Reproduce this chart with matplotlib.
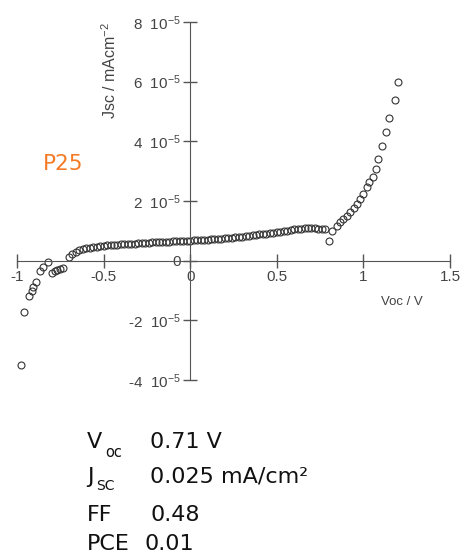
import numpy as np
import matplotlib
matplotlib.use('Agg')
import matplotlib.pyplot as plt

plt.rcParams['font.family'] = ['Liberation Sans', 'DejaVu Sans']
plt.rcParams['mathtext.fontset'] = 'custom'
plt.rcParams['mathtext.rm'] = 'Liberation Sans'
plt.rcParams['mathtext.default'] = 'regular'

# reverse-bias end (V, 1e-5 mA/cm2)
x_left = [-0.977, -0.960, -0.931, -0.913, -0.908, -0.890, -0.867, -0.850, -0.821,
          -0.798, -0.780, -0.769, -0.751, -0.734]
y_left = [-3.50, -1.73, -1.17, -1.03, -0.87, -0.70, -0.33, -0.20, -0.03,
          -0.40, -0.33, -0.30, -0.27, -0.23]

# plateau, -0.70 V .. 0.78 V in 0.02 V steps
x_mid = np.round(np.arange(-0.70, 0.79, 0.02), 2)
y_mid = [0.13, 0.22, 0.30, 0.35, 0.39, 0.42, 0.44, 0.46, 0.47, 0.49,
         0.50, 0.51, 0.52, 0.53, 0.54, 0.55, 0.55, 0.56, 0.57, 0.57,
         0.58, 0.59, 0.59, 0.60, 0.61, 0.62, 0.62, 0.63, 0.64, 0.64,
         0.65, 0.65, 0.66, 0.66, 0.67, 0.67, 0.68, 0.68, 0.69, 0.69,
         0.70, 0.71, 0.72, 0.73, 0.74, 0.75, 0.76, 0.77, 0.78, 0.79,
         0.80, 0.82, 0.83, 0.85, 0.86, 0.88, 0.89, 0.91, 0.92, 0.94,
         0.95, 0.97, 0.99, 1.01, 1.03, 1.05, 1.06, 1.07, 1.08, 1.08,
         1.08, 1.08, 1.07, 1.07, 1.07]

# forward-bias end
x_right = [0.80, 0.82, 0.85, 0.867, 0.885, 0.905, 0.925, 0.943, 0.965, 0.983, 1.00,
           1.02, 1.035, 1.058, 1.07, 1.087, 1.11, 1.133, 1.15, 1.18, 1.20]
y_right = [0.67, 1.00, 1.17, 1.30, 1.40, 1.50, 1.63, 1.77, 1.90, 2.07, 2.23,
           2.47, 2.63, 2.80, 3.07, 3.40, 3.83, 4.30, 4.77, 5.37, 6.00]

yticks = [-4, -2, 0, 2, 4, 6, 8]
xticks = [-1, -0.5, 0, 0.5, 1, 1.5]
xticklabels = ['-1', '-0.5', '0', '0.5', '1', '1.5']

V = np.concatenate([x_left, x_mid, x_right])
J = np.concatenate([y_left, y_mid, y_right]) * 1e-5

fig = plt.figure(figsize=(4.62, 5.55), dpi=100)
ax = fig.add_axes([17/462, 1-380/555, 433/462, 358/555])

ax.plot(V, J, 'o', mfc='none', mec='#333333', ms=5, mew=0.8, clip_on=False)

ax.set_xlim(-1, 1.5)
ax.set_ylim(-4e-5, 8e-5)
for s in ['top', 'right']:
    ax.spines[s].set_visible(False)
ax.spines['left'].set_position(('data', 0))
ax.spines['bottom'].set_position(('data', 0))
ax.spines['left'].set_color('#555555')
ax.spines['bottom'].set_color('#555555')

ax.set_xticks(xticks)
ax.set_xticklabels(xticklabels)
ax.set_yticks([t * 1e-5 for t in yticks])
ax.set_yticklabels(['0' if t == 0 else '%d  10$^{-5}$' % t for t in yticks])
ax.tick_params(direction='inout', length=10, width=1, color='#555555',
               labelsize=11, labelcolor='#444444', pad=2)

fig.text(110/462, 1-70/555, 'Jsc / mAcm$^{-2}$', rotation=90, ha='center', va='center',
         fontsize=11.5, color='#444444')
fig.text(402/462, 1-302/555, 'Voc / V', ha='center', va='center',
         fontsize=9.5, color='#444444')

fig.text(43/462, 1-170/555, 'P25', ha='left', va='baseline', fontsize=15.5,
         color='#F47A25', family='DejaVu Sans')

tf = dict(family='DejaVu Sans', color='#111111', va='baseline', ha='left')
fig.text(87/462, 1-448/555, 'V', fontsize=16, **tf)
fig.text(105/462, 1-457/555, 'oc', fontsize=10.5, **tf)
fig.text(150/462, 1-448/555, '0.71 V', fontsize=16, **tf)
fig.text(87/462, 1-483/555, 'J', fontsize=16, **tf)
fig.text(96/462, 1-490/555, 'SC', fontsize=10, **tf)
fig.text(150/462, 1-483/555, '0.025 mA/cm²', fontsize=16, **tf)
fig.text(87/462, 1-521/555, 'FF', fontsize=16, **tf)
fig.text(150/462, 1-521/555, '0.48', fontsize=16, **tf)
fig.text(87/462, 1-550/555, 'PCE', fontsize=16, **tf)
fig.text(145/462, 1-550/555, '0.01', fontsize=16, **tf)

fig.savefig('out.png', dpi=100)
